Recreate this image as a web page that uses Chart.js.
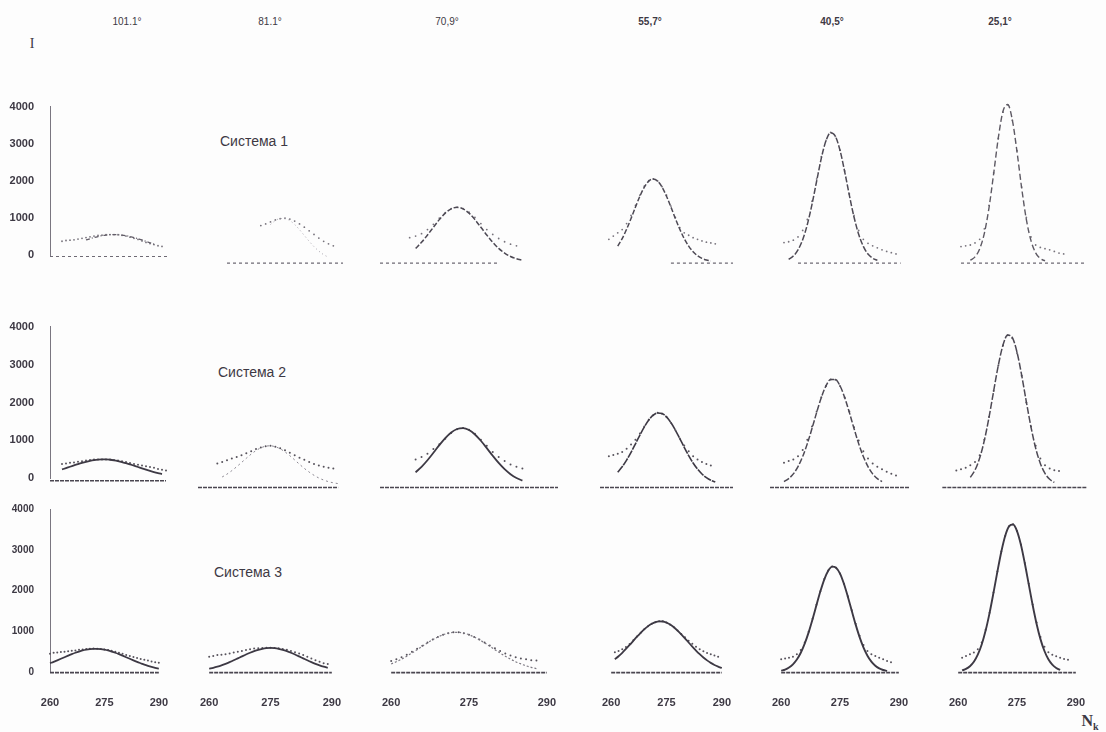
<!DOCTYPE html>
<html>
<head>
<meta charset="utf-8">
<script src="https://cdn.jsdelivr.net/npm/chart.js@4.4.1/dist/chart.umd.min.js"></script>
<style>
  html, body { margin: 0; padding: 0; }
  body { width: 1106px; height: 732px; position: relative; overflow: hidden; background: #fdfdfd;
         font-family: "Liberation Sans", Arial, sans-serif; color: #3d3944; }
  .t { position: absolute; white-space: nowrap; transform: translate(-50%, -50%); }
  .ang { font-size: 10px; }
  .sys { font-size: 14px; }
  .serif { font-family: "Liberation Serif", serif; }
  canvas { position: absolute; }
</style>
</head>
<body>
<script>
// column headings (scattering angle) and row labels
const angles = ['101.1°', '81.1°', '70,9°', '55,7°', '40,5°', '25,1°'];
const systems = ['Система 1', 'Система 2', 'Система 3'];
const xTicks = [260, 275, 290];
const yTicks = [0, 1000, 2000, 3000, 4000];

// channel numbers N_k shared by every panel
const N = [260, 261, 262, 263, 264, 265, 266, 267, 268, 269, 270, 271, 272, 273, 274, 275,
           276, 277, 278, 279, 280, 281, 282, 283, 284, 285, 286, 287, 288, 289, 290];

// Система 1 : fit (line) and measured (dots)
const fit11 = [null, null, null, null, null, null, null, null, null, 415, 448, 480, 507, 530, 546, 557, 560, 557, 546, 530, 507, 480, 448, 415, 377, 340, 302, null, null, null, null];
const exp11 = [null, null, null, 380, 400, 410, 420, 440, 460, 480, 500, 520, 535, 545, 555, 560, 560, 555, 540, 520, 490, 460, 430, 390, 350, 320, 290, 260, 240, null, null];
const fit12 = [null, null, null, null, null, null, null, null, null, null, null, null, null, null, null, 926, 1021, 1073, 1073, 1021, 926, 798, 655, 512, 380, 269, 181, 117, null, null, null];
const exp12 = [null, null, null, null, null, null, null, null, null, null, null, null, null, 900, 940, 990, 1040, 1070, 1080, 1060, 1010, 940, 860, 770, 680, 590, 510, 450, 400, null, null];
const fit13 = [null, null, null, null, null, null, 336, 486, 665, 858, 1046, 1206, 1312, 1350, 1312, 1206, 1046, 858, 665, 486, 336, 220, 136, 80, 44, null, null, null, null, null, null];
const exp13 = [null, null, null, null, null, 600, 640, 700, 800, 930, 1080, 1220, 1320, 1350, 1320, 1230, 1100, 950, 800, 680, 580, 500, 440, 400, null, null, null, null, null, null, null];
const fit14 = [null, null, null, null, 393, 576, 809, 1074, 1357, 1624, 1849, 1998, 2050, 1998, 1849, 1624, 1357, 1074, 809, 576, 393, 253, 155, 90, 49, 26, null, null, null, null, null];
const exp14 = [null, null, 560, 640, 720, 800, 950, 1150, 1400, 1650, 1870, 2010, 2050, 2000, 1860, 1650, 1380, 1100, 850, 720, 660, 600, 560, 520, 490, 470, 450, null, null, null, null];
const fit15 = [null, null, null, null, 66, 147, 297, 550, 926, 1424, 2000, 2563, 2995, 3194, 3107, 2758, 2233, 1650, 1112, 685, 385, 196, 92, 39, null, null, null, null, null, null, null];
const exp15 = [null, null, null, 480, 500, 540, 620, 780, 1050, 1500, 2050, 2600, 3000, 3200, 3100, 2760, 2250, 1680, 1150, 780, 560, 460, 400, 350, 300, 260, 230, 200, null, null, null];
const fit16 = [null, null, null, null, null, 43, 127, 324, 706, 1338, 2184, 3069, 3721, 3888, 3506, 2726, 1825, 1053, 527, 226, 84, 27, null, null, null, null, null, null, null, null, null];
const exp16 = [null, null, null, 380, 400, 420, 470, 560, 820, 1400, 2200, 3050, 3700, 3880, 3500, 2750, 1850, 1100, 620, 420, 360, 330, 300, 260, 220, 200, null, null, null, null, null];

// Система 2
const fit21 = [null, null, null, 236, 271, 307, 342, 377, 409, 437, 461, 480, 493, 499, 499, 491, 477, 457, 432, 402, 370, 335, 300, 264, 230, 197, 166, 139, 115, null, null];
const exp21 = [null, null, null, 380, 390, 410, 420, 440, 455, 470, 485, 495, 500, 500, 500, 495, 485, 470, 450, 430, 405, 380, 360, 340, 320, 300, 280, 250, 230, 210, null];
const fit22 = [null, null, null, null, null, 194, 264, 348, 443, 545, 649, 748, 834, 901, 940, 950, 927, 877, 802, 710, 608, 503, 403, 313, 235, 170, 120, 81, 53, 34, null];
const exp22 = [null, null, null, null, 520, 560, 600, 640, 680, 720, 770, 820, 870, 910, 940, 950, 930, 890, 840, 780, 720, 660, 610, 560, 510, 470, 440, 420, 400, null, null];
const fit23 = [null, null, null, null, null, null, 307, 441, 601, 781, 966, 1137, 1274, 1358, 1379, 1332, 1225, 1072, 893, 708, 534, 384, 262, 171, 106, null, null, null, null, null, null];
const exp23 = [null, null, null, null, null, null, 620, 680, 760, 870, 990, 1120, 1260, 1350, 1380, 1340, 1240, 1100, 950, 800, 680, 580, 500, 440, 400, null, null, null, null, null, null];
const fit24 = [null, null, null, null, 310, 441, 603, 791, 998, 1209, 1407, 1575, 1692, 1747, 1733, 1652, 1512, 1331, 1125, 914, 713, 533, 385, 267, 177, 113, 70, null, null, null, null];
const exp24 = [null, null, 700, 730, 760, 800, 880, 980, 1100, 1250, 1420, 1580, 1690, 1750, 1730, 1650, 1510, 1330, 1130, 960, 820, 700, 620, 560, 510, 470, null, null, null, null, null];
const fit25 = [null, null, null, 82, 154, 269, 445, 690, 1003, 1370, 1760, 2122, 2405, 2560, 2560, 2405, 2122, 1760, 1370, 1003, 690, 445, 269, 154, 82, null, null, null, null, null, null];
const exp25 = [null, null, null, 540, 580, 620, 700, 850, 1100, 1420, 1780, 2130, 2400, 2560, 2550, 2400, 2120, 1780, 1400, 1080, 820, 640, 520, 440, 380, 320, 270, 230, null, null, null];
const fit26 = [null, null, null, null, null, 186, 362, 653, 1080, 1639, 2279, 2903, 3392, 3635, 3573, 3220, 2662, 2018, 1403, 893, 523, 280, 138, 62, null, null, null, null, null, null, null];
const exp26 = [null, null, 350, 380, 420, 480, 560, 720, 1100, 1650, 2280, 2900, 3380, 3630, 3560, 3200, 2650, 2000, 1420, 950, 640, 480, 400, 360, 340, null, null, null, null, null, null];

// Система 3
const fit31 = [215, 249, 286, 324, 363, 401, 438, 472, 502, 528, 548, 562, 569, 569, 562, 548, 528, 502, 472, 438, 401, 363, 324, 286, 249, 215, 182, 153, 127, 104, 84];
const exp31 = [450, 470, 480, 490, 500, 510, 520, 530, 545, 555, 565, 570, 575, 570, 565, 555, 540, 520, 495, 470, 445, 420, 395, 370, 345, 320, 300, 280, 260, 240, 230];
const fit32 = [77, 100, 127, 158, 194, 234, 277, 323, 369, 414, 456, 494, 526, 550, 565, 570, 565, 550, 526, 494, 456, 414, 369, 323, 277, 234, 194, 158, 127, 100, null];
const exp32 = [360, 380, 400, 410, 420, 440, 460, 480, 500, 520, 540, 555, 565, 570, 575, 575, 570, 560, 545, 525, 500, 470, 440, 400, 360, 320, 280, 240, 210, 190, null];
const fit33 = [191, 244, 305, 374, 450, 529, 611, 690, 764, 829, 882, 919, 937, 937, 919, 882, 829, 764, 690, 611, 529, 450, 374, 305, 244, 191, 146, 110, 81, null, null];
const exp33 = [260, 300, 350, 410, 480, 550, 620, 700, 770, 830, 880, 920, 940, 940, 920, 880, 830, 770, 700, 630, 560, 500, 440, 390, 350, 320, 300, 280, 270, null, null];
const fit34 = [null, 302, 374, 455, 545, 640, 738, 835, 928, 1014, 1086, 1143, 1182, 1199, 1195, 1169, 1123, 1059, 980, 891, 797, 698, 601, 508, 422, 344, 275, 216, 167, 127, 94];
const exp34 = [null, 470, 500, 540, 590, 660, 750, 840, 930, 1010, 1080, 1140, 1180, 1200, 1200, 1170, 1120, 1060, 980, 900, 820, 740, 670, 600, 540, 490, 450, 420, 390, 360, null];
const fit35 = [32, 59, 107, 182, 295, 456, 670, 938, 1249, 1583, 1910, 2194, 2398, 2495, 2470, 2328, 2088, 1783, 1449, 1121, 825, 578, 386, 245, 148, 85, 47, 24, null, null, null];
const exp35 = [300, 320, 340, 360, 420, 520, 700, 950, 1260, 1590, 1910, 2200, 2400, 2500, 2470, 2330, 2090, 1790, 1460, 1140, 860, 640, 500, 420, 380, 340, 300, 260, 230, null, null];
const fit36 = [null, 36, 72, 137, 243, 411, 652, 981, 1394, 1872, 2375, 2847, 3225, 3452, 3491, 3336, 3013, 2569, 2073, 1579, 1137, 772, 497, 302, 174, 94, 48, null, null, null, null];
const exp36 = [null, 340, 380, 420, 460, 540, 700, 1000, 1400, 1880, 2380, 2850, 3220, 3450, 3500, 3340, 3020, 2580, 2090, 1600, 1170, 830, 600, 470, 410, 370, 340, 310, 290, null, null];

// zero lines under each panel: extent in N and level
const baseFrom = [[260, 266, 260, 276, 266, 263], [260, 260, 260, 260, 260, 259], [260, 260, 260, 260, 260, 260]];
const baseTo = [[290, 290, 280, 290, 288, 290], [289, 289, 290, 290, 290, 290], [290, 290, 290, 290, 290, 290]];
const baseLevel = [-30, -60, -15];

const fits = [[fit11, fit12, fit13, fit14, fit15, fit16], [fit21, fit22, fit23, fit24, fit25, fit26], [fit31, fit32, fit33, fit34, fit35, fit36]];
const exps = [[exp11, exp12, exp13, exp14, exp15, exp16], [exp21, exp22, exp23, exp24, exp25, exp26], [exp31, exp32, exp33, exp34, exp35, exp36]];

// ---- layout of the 6 x 3 grid (pixel positions of N=260..290 and I=0..4000)
const colLeft = [50, 198, 380, 600, 770, 947];
const colRight = [170, 343, 558, 733, 910, 1087];
const rowTop = [100, 320, 503];
const rowZero = [262, 485, 672];

const ink = '#3d3944';
const S = (c, w, d) => ({ c, w, d });
const fitStyle = [
  [S('#625d68', 1.3, [4, 2, 1, 2]), S('#a5a1ab', 1, [1, 3]), S('#4d4954', 1.5, [5, 2]), S('#4d4954', 1.5, [5, 2]), S('#4d4954', 1.5, [6, 2]), S('#5d5963', 1.4, [6, 3])],
  [S(ink, 1.8, []), S('#8a8690', 1, [2, 3]), S(ink, 1.8, []), S(ink, 1.6, [8, 1]), S('#4d4954', 1.5, [6, 2]), S('#4d4954', 1.5, [7, 2])],
  [S(ink, 1.8, []), S(ink, 1.8, []), S('#7c7882', 1.2, [2, 2]), S(ink, 1.8, []), S(ink, 1.9, []), S(ink, 1.9, [])]
];
const dotColor = ['#77737c', '#57535c', '#57535c'];
const dotSize = [0.9, 1.0, 1.0];

function label(text, x, y, cls, extra) {
  const d = document.createElement('div');
  d.className = 't ' + cls;
  d.style.left = x + 'px';
  d.style.top = y + 'px';
  if (extra) d.style.cssText += extra;
  d.innerHTML = text;
  document.body.appendChild(d);
}

const angleX = [127, 270, 447, 650, 832, 1000];
angles.forEach((a, i) => label(a, angleX[i], 21, 'ang', i > 2 ? 'font-weight:bold;' : ''));
label('I', 32, 44, 'serif', 'font-size:14px;');
const sysPos = [[254, 141], [252, 372], [248, 572]];
systems.forEach((s, i) => label(s, sysPos[i][0], sysPos[i][1], 'sys'));
label('N<sub style="font-size:10px">k</sub>', 1090, 722, 'serif', 'font-size:16px;font-weight:bold;');

function panel(r, c) {
  const first = c === 0, bottom = r === 2;
  const x0 = colLeft[c], x1 = colRight[c], yT = rowTop[r], yB = rowZero[r];
  const padL = first ? 6 : 14, padR = 14, padT = 8, padB = 8;
  const yw = first ? 44 : 0, xh = bottom ? 40 : 0;
  const cv = document.createElement('canvas');
  cv.width = x1 - x0 + padL + padR + yw;
  cv.height = yB - yT + padT + padB + xh;
  cv.style.left = (x0 - padL - yw) + 'px';
  cv.style.top = (yT - padT) + 'px';
  document.body.appendChild(cv);

  const pts = arr => N.map((n, i) => ({ x: n, y: arr[i] }));
  const st = fitStyle[r][c];
  const tickFont = { family: 'Liberation Sans', size: bottom ? 10 : 11, weight: 'bold' };

  new Chart(cv, {
    type: 'scatter',
    data: {
      datasets: [
        { data: [{ x: baseFrom[r][c], y: baseLevel[r] }, { x: baseTo[r][c], y: baseLevel[r] }],
          showLine: true, borderColor: r === 0 ? '#6e6a74' : '#4a4650', borderWidth: r === 0 ? 1.2 : 1.6,
          borderDash: r === 0 ? [3, 3] : [4, 1], pointRadius: 0, clip: 14 },
        { data: pts(fits[r][c]), showLine: true, borderColor: st.c, borderWidth: st.w, borderDash: st.d,
          pointRadius: 0, cubicInterpolationMode: 'monotone', spanGaps: false, clip: 14 },
        { data: pts(exps[r][c]), showLine: false, pointRadius: dotSize[r], pointBackgroundColor: dotColor[r],
          pointBorderWidth: 0, clip: 14 }
      ]
    },
    options: {
      responsive: false,
      animation: false,
      events: [],
      layout: { padding: { left: padL, right: padR, top: padT, bottom: padB } },
      plugins: { legend: { display: false }, tooltip: { enabled: false } },
      scales: {
        x: {
          type: 'linear', min: 260, max: 290, display: bottom,
          grid: { display: false }, border: { display: false },
          afterBuildTicks: s => { s.ticks = xTicks.map(v => ({ value: v })); },
          afterFit: s => { s.height = xh; },
          ticks: { padding: 16, color: ink, font: { family: 'Liberation Sans', size: 11, weight: 'bold' },
                   maxRotation: 0, autoSkip: false, callback: v => v }
        },
        y: {
          type: 'linear', min: 0, max: 4000, display: first,
          grid: { display: false },
          border: { display: true, color: '#7a7680', width: 1, dash: r === 0 ? [1, 3] : [] },
          afterBuildTicks: s => { s.ticks = yTicks.map(v => ({ value: v })); },
          afterFit: s => { s.width = yw; },
          ticks: { padding: 8, color: ink, font: tickFont, callback: v => v }
        }
      }
    }
  });
}

for (let r = 0; r < 3; r++) {
  for (let c = 0; c < 6; c++) panel(r, c);
}
</script>
</body>
</html>
